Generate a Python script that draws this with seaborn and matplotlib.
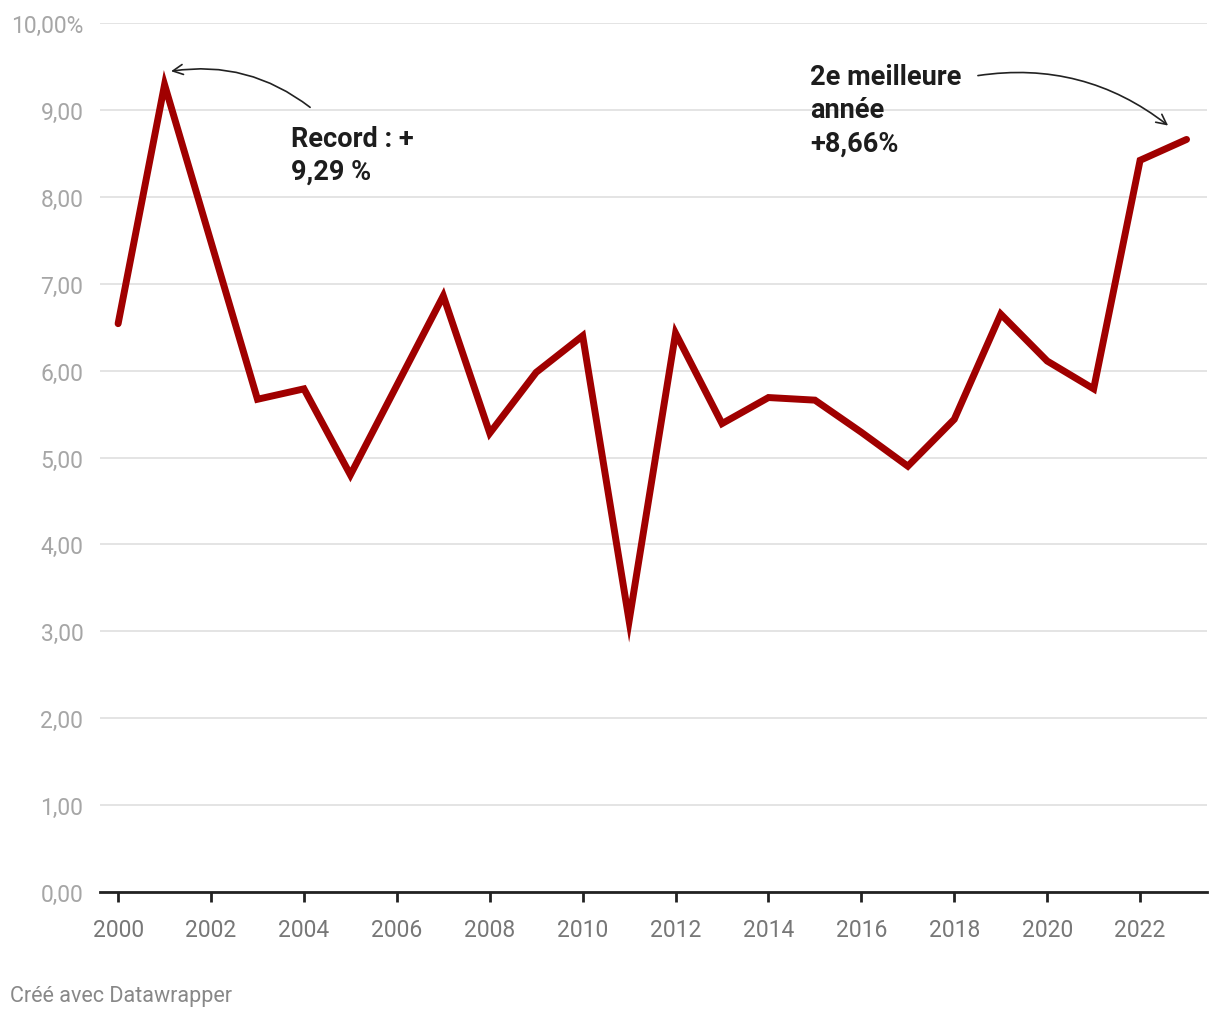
import matplotlib
matplotlib.use('Agg')
import matplotlib.pyplot as plt
import seaborn as sns
import pandas as pd

# Croissance annuelle (%)
years = list(range(2000, 2024))
values = [6.54, 9.29, 7.48, 5.67, 5.79, 4.80, 5.83, 6.86, 5.28, 5.98,
          6.40, 3.12, 6.43, 5.39, 5.69, 5.66, 5.29, 4.90, 5.44, 6.65,
          6.11, 5.79, 8.42, 8.66]
y_ticks = [0, 1, 2, 3, 4, 5, 6, 7, 8, 9, 10]
x_ticks = list(range(2000, 2024, 2))

df = pd.DataFrame({'annee': years, 'valeur': values})

sns.set_theme(style='white')
plt.rcParams['font.family'] = ['Roboto', 'DejaVu Sans']

fig = plt.figure(figsize=(12.2, 10.2), dpi=100)
ax = fig.add_axes([100 / 1220, 1 - 893 / 1020, 1107 / 1220, 869 / 1020])

sns.lineplot(data=df, x='annee', y='valeur', color='#a00000', linewidth=5,
             ax=ax, solid_joinstyle='miter', solid_capstyle='round')

ax.set_xlim(1999.61, 2023.44)
ax.set_ylim(0, 10)
ax.set_yticks(y_ticks)
ax.set_yticklabels([f'{v:.2f}'.replace('.', ',') + ('%' if v == 10 else '') for v in y_ticks])
ax.set_xticks(x_ticks)
ax.set_xticklabels([str(x) for x in x_ticks])
ax.grid(axis='y', color='#e2e2e2', linewidth=1.3)
ax.set_axisbelow(True)
for s in ['top', 'right', 'left']:
    ax.spines[s].set_visible(False)
ax.spines['bottom'].set_color('#222222')
ax.spines['bottom'].set_linewidth(2)
ax.tick_params(axis='y', length=0, pad=12, labelsize=16.5, labelcolor='#a6a6a6')
ax.tick_params(axis='x', length=7, width=2, color='#222222', pad=12,
               labelsize=16.5, labelcolor='#777777', bottom=True)
ax.set_xlabel('')
ax.set_ylabel('')

# Annotations
ax.annotate('', xy=(2001.08, 9.44), xytext=(2004.18, 9.01),
            arrowprops=dict(arrowstyle='->', color='#222222', lw=1.2,
                            connectionstyle='arc3,rad=0.22', mutation_scale=18))
ax.text(2003.72, 8.83, 'Record : +\n9,29 %', fontsize=19.5, fontweight='bold',
        color='#1d1d1d', va='top', ha='left', linespacing=1.3)

ax.annotate('', xy=(2022.65, 8.80), xytext=(2018.45, 9.39),
            arrowprops=dict(arrowstyle='->', color='#222222', lw=1.2,
                            connectionstyle='arc3,rad=-0.22', mutation_scale=18))
ax.text(2014.90, 9.54, '2e meilleure\nannée\n+8,66%', fontsize=19.5, fontweight='bold',
        color='#1d1d1d', va='top', ha='left', linespacing=1.3)

fig.text(10 / 1220, 1 - 997 / 1020, 'Créé avec Datawrapper', fontsize=15.5,
         color='#888888', ha='left', va='center')

fig.savefig('out.png', dpi=100)
